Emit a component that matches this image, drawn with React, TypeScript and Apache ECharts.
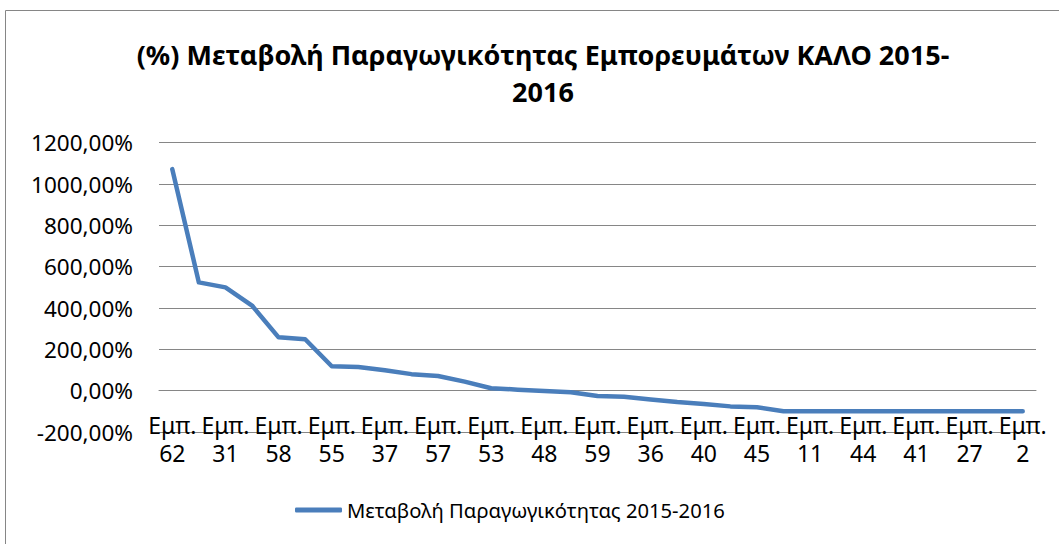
import React, { useEffect, useRef } from "react";
import * as echarts from "echarts";

const titleText = "(%) Μεταβολή Παραγωγικότητας Εμπορευμάτων ΚΑΛΟ 2015-\n2016";
const seriesName = "Μεταβολή Παραγωγικότητας 2015-2016";

const categories = [
  "Εμπ. 62", "Εμπ. 8", "Εμπ. 31", "Εμπ. 23", "Εμπ. 58", "Εμπ. 49", "Εμπ. 55", "Εμπ. 4",
  "Εμπ. 37", "Εμπ. 29", "Εμπ. 57", "Εμπ. 12", "Εμπ. 53", "Εμπ. 50", "Εμπ. 48", "Εμπ. 6",
  "Εμπ. 59", "Εμπ. 19", "Εμπ. 36", "Εμπ. 60", "Εμπ. 40", "Εμπ. 33", "Εμπ. 45", "Εμπ. 3",
  "Εμπ. 11", "Εμπ. 9", "Εμπ. 44", "Εμπ. 15", "Εμπ. 41", "Εμπ. 20", "Εμπ. 27", "Εμπ. 25",
  "Εμπ. 2",
];

const values = [
  1072, 524, 500, 412, 258, 249, 118, 115,
  99, 80, 71, 44, 12, 5, -2, -8,
  -26, -29, -43, -55, -64, -76, -80, -100,
  -100, -100, -100, -100, -100, -100, -100, -100,
  -100,
];

const yMin = -200;
const yMax = 1200;
const yStep = 200;

const FONT = "'Noto Sans', sans-serif";

export default function App() {
  const ref = useRef<HTMLDivElement>(null);
  useEffect(() => {
    if (!ref.current) return;
    const chart = echarts.init(ref.current, undefined, { renderer: "svg" });
    const gridTop = 142.7;
    const gridBottomPx = 432;
    const pxPerUnit = (gridBottomPx - gridTop) / (yMax - yMin);
    const zeroOffset = -(0 - yMin) * pxPerUnit;
    chart.setOption({
      animation: false,
      backgroundColor: "#ffffff",
      textStyle: { fontFamily: FONT },
      graphic: [
        {
          type: "rect",
          shape: { x: 5.5, y: 10.5, width: 1060, height: 560 },
          style: { fill: "none", stroke: "#868686", lineWidth: 1 },
          silent: true,
        },
      ],
      title: {
        text: titleText,
        left: 538,
        textAlign: "center",
        top: 31,
        textStyle: {
          fontFamily: FONT,
          fontWeight: "bold",
          fontSize: 27,
          lineHeight: 37,
          color: "#000000",
        },
      },
      legend: {
        left: 290,
        top: 495,
        itemWidth: 47,
        itemHeight: 5,
        icon: "roundRect",
        textStyle: { fontFamily: FONT, fontSize: 20.2, color: "#000000" },
        data: [seriesName],
      },
      grid: {
        left: 159,
        right: 23,
        top: gridTop,
        bottom: 544 - gridBottomPx,
        containLabel: false,
      },
      xAxis: {
        type: "category",
        data: categories,
        boundaryGap: true,
        offset: zeroOffset,
        axisLine: { show: true, onZero: false, lineStyle: { color: "#868686", width: 1 } },
        axisTick: { show: false },
        axisLabel: {
          interval: 1,
          margin: 20,
          fontFamily: FONT,
          fontSize: 23,
          lineHeight: 28,
          color: "#000000",
          formatter: (v: string) => v.replace(" ", "\n"),
        },
        splitLine: { show: false },
      },
      yAxis: {
        type: "value",
        min: yMin,
        max: yMax,
        interval: yStep,
        axisLine: { show: false },
        axisTick: { show: false },
        axisLabel: {
          margin: 26,
          fontFamily: FONT,
          fontSize: 22.5,
          color: "#000000",
          formatter: (v: number) => v.toFixed(2).replace(".", ",") + "%",
        },
        splitLine: { show: true, lineStyle: { color: "#868686", width: 1 } },
      },
      series: [
        {
          name: seriesName,
          type: "line",
          data: values,
          symbol: "none",
          lineStyle: { color: "#4a7ebb", width: 4.5, cap: "round", join: "round" },
          itemStyle: { color: "#4a7ebb" },
        },
      ],
    });
    return () => chart.dispose();
  }, []);
  return (
    <div
      ref={ref}
      style={{ position: "absolute", left: 0, top: 0, width: 1059, height: 544 }}
    />
  );
}
